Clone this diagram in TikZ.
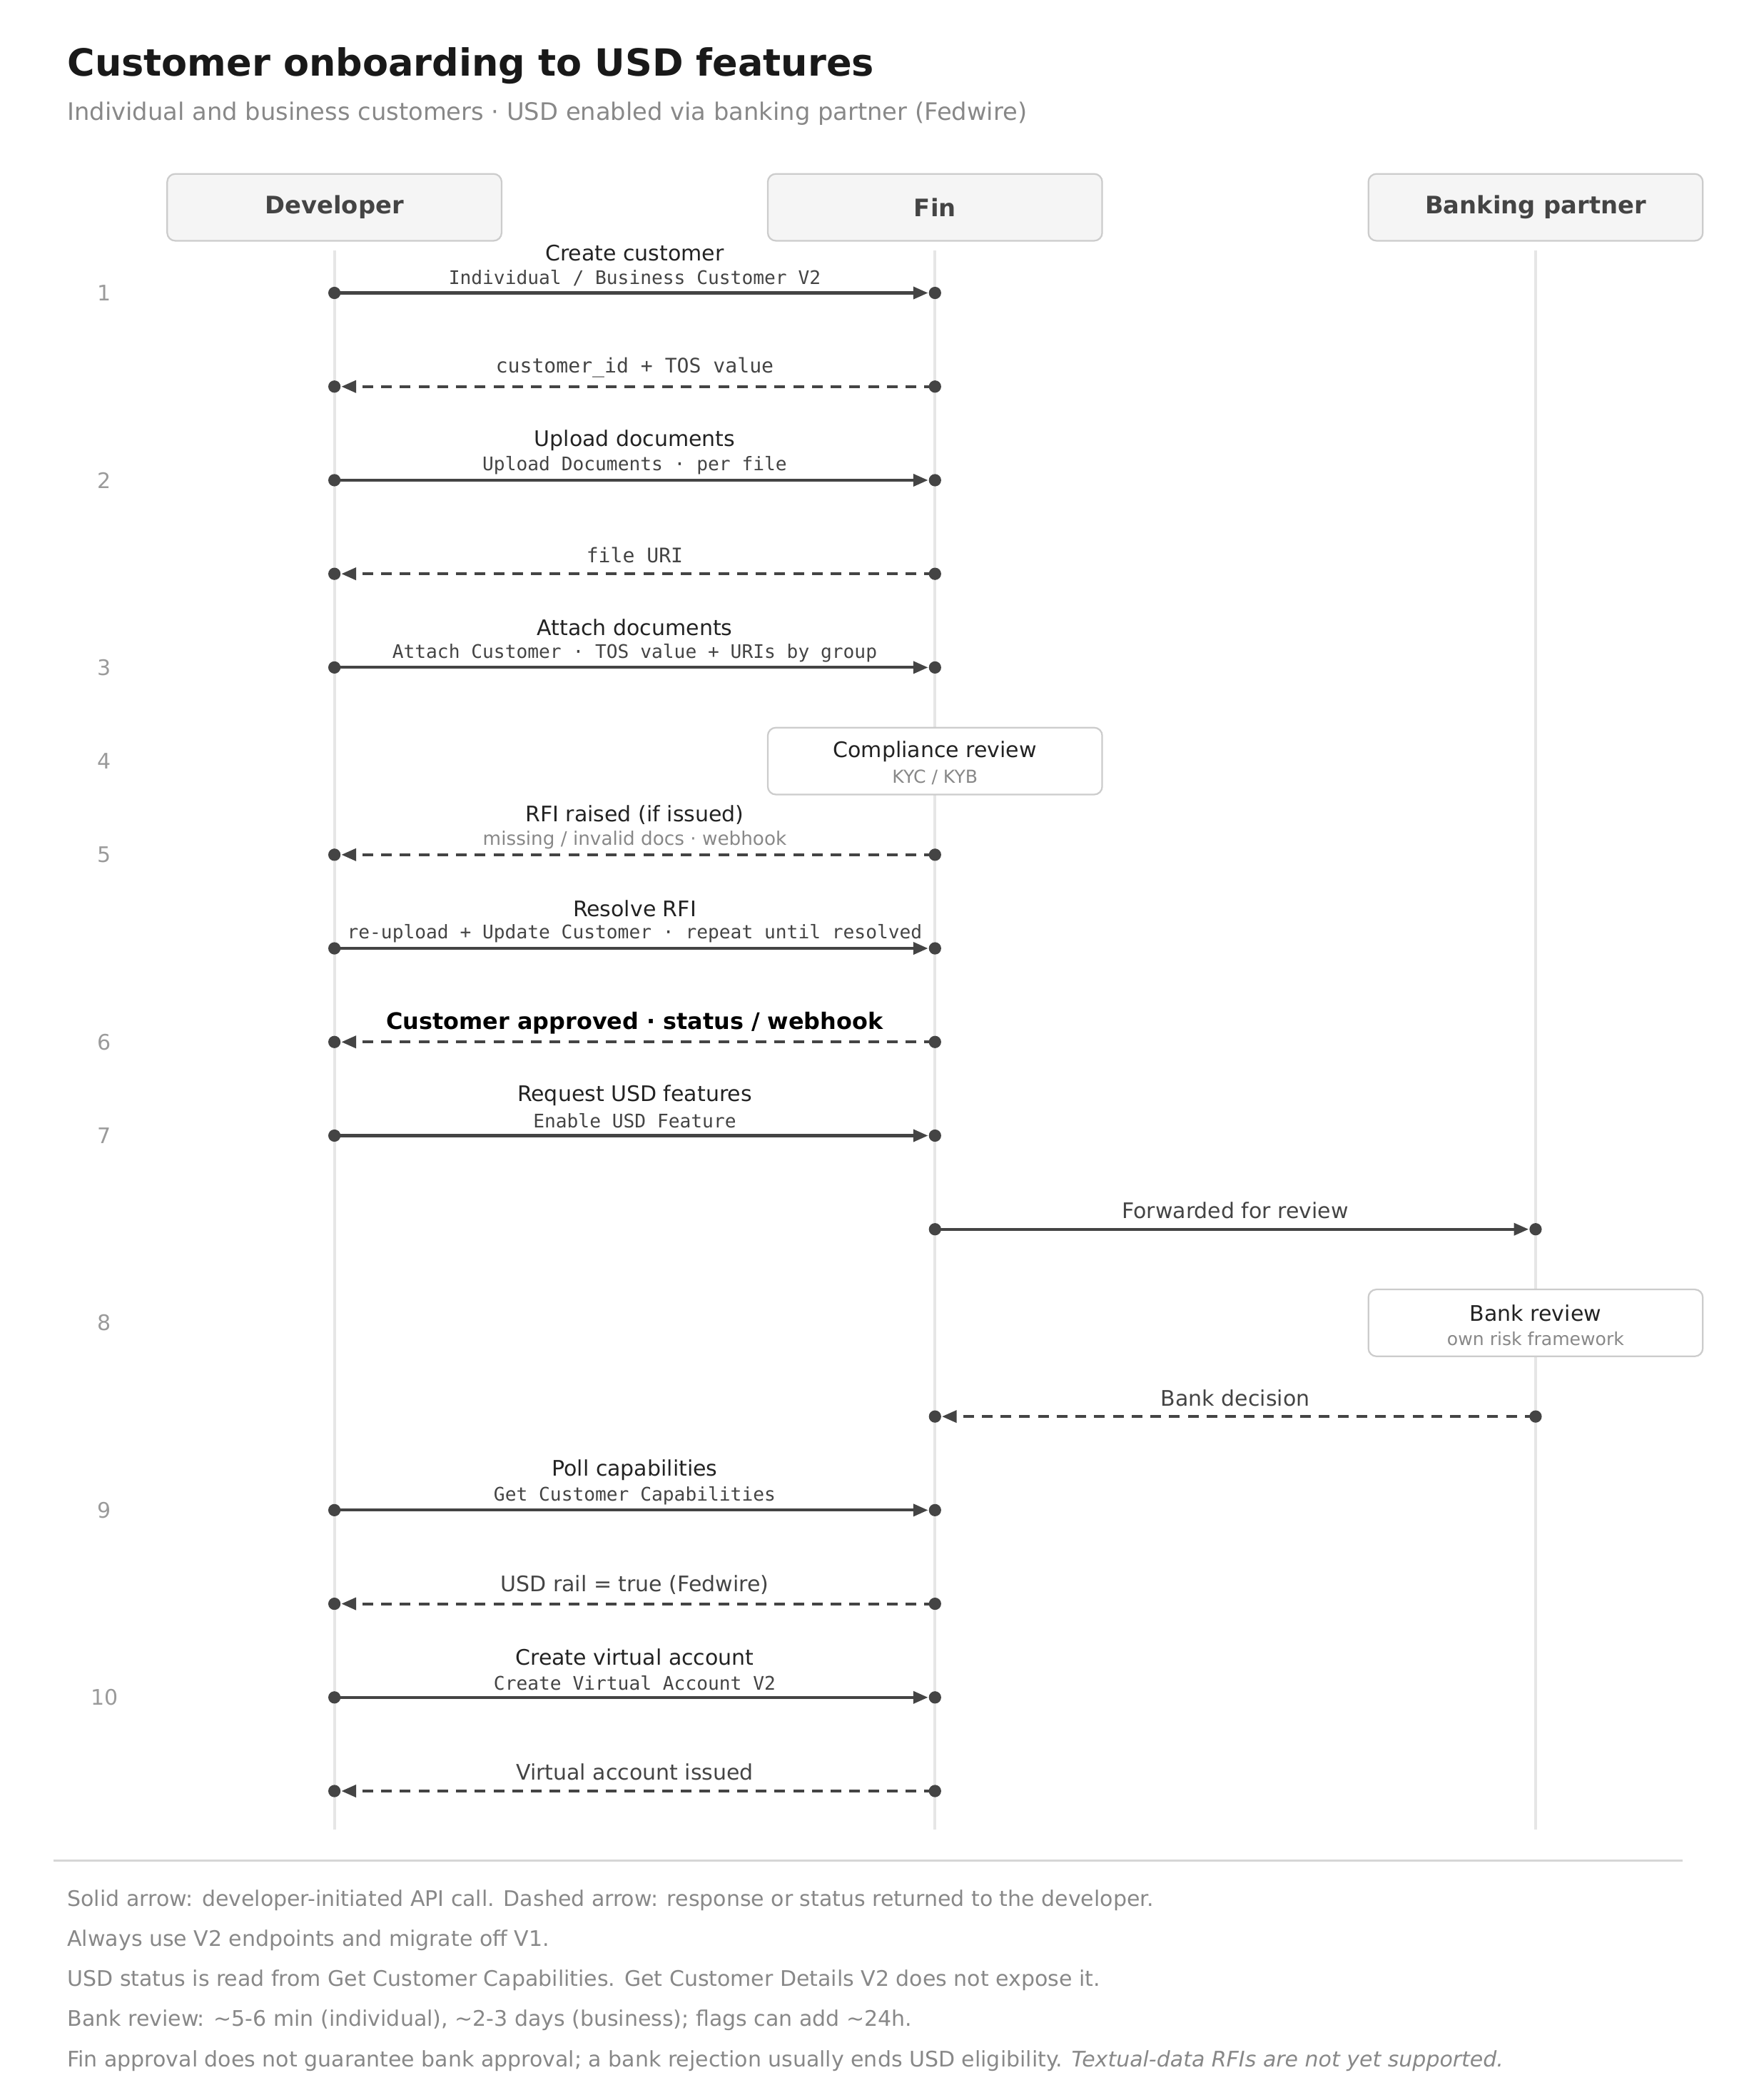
\documentclass[tikz,border=0pt]{standalone}
\usepackage{fontspec}
\setmainfont{DejaVu Sans}
\setmonofont{DejaVu Sans Mono}
\usetikzlibrary{arrows.meta}
\definecolor{ink}{HTML}{444444}
\definecolor{txt}{HTML}{222222}
\definecolor{muted}{HTML}{888888}
\definecolor{stepc}{HTML}{9A9A9A}
\definecolor{lifel}{HTML}{E6E6E6}
\definecolor{boxl}{HTML}{CCCCCC}
\definecolor{boxf}{HTML}{F5F5F5}
\newcommand\msgrow[7]{%
  \coordinate (#1a) at (#2,#4); \coordinate (#1b) at (#3,#4);
  \draw[#5] (#1a) -- (#1b);
  \fill[ink] (#1a) circle[radius=2.3pt] (#1b) circle[radius=2.3pt];
  \node[lbl] (#1m) at ({(#2+#3)/2},{#4-30}) {#6};
  \node[lbl] (#1s) at ({(#2+#3)/2},{#4-11}) {#7};
}
\newcommand\retrow[6]{%
  \coordinate (#1a) at (#2,#4); \coordinate (#1b) at (#3,#4);
  \draw[#5] (#1a) -- (#1b);
  \fill[ink] (#1a) circle[radius=2.3pt] (#1b) circle[radius=2.3pt];
  \node[lbl] (#1m) at ({(#2+#3)/2},{#4-14}) {#6};
}
\begin{document}
\begin{tikzpicture}[x=0.5pt,y=-0.5pt,
  call/.style={ink,line width=1.1pt,-{Triangle[length=5.5pt,width=4.5pt]},shorten >=2.6pt},
  ret/.style={call,dash pattern=on 4pt off 3pt},
  lbl/.style={inner sep=0pt,anchor=center},
  hdr/.style={draw=boxl,fill=boxf,rounded corners=3pt,line width=0.6pt,minimum width=125pt,minimum height=25pt,font=\fontsize{9}{11}\selectfont\bfseries,text=ink},
  abox/.style={draw=boxl,fill=white,rounded corners=3pt,line width=0.6pt,minimum width=125pt,minimum height=25pt},
  stepnum/.style={font=\fontsize{8}{9.6}\selectfont,text=stepc},
  foot/.style={font=\fontsize{8}{9.6}\selectfont,text=muted,anchor=base west,inner sep=0pt}]
\useasboundingbox (0,0) rectangle (1300,1570);
\def\sm{\fontsize{8}{9.6}\selectfont\color{txt}}
\def\sb{\ttfamily\fontsize{7}{8.4}\selectfont\color{ink}}
\def\sg{\fontsize{6.7}{8}\selectfont\color{muted}}
\node[anchor=base west,inner sep=0,font=\fontsize{14}{16}\selectfont\bfseries,text=black!90] (title) at (50,57) {Customer onboarding to USD features};
\node[anchor=base west,inner sep=0,font=\fontsize{9}{11}\selectfont,text=muted] (sub) at (50,90) {Individual and business customers · USD enabled via banking partner (Fedwire)};
% lifelines
\foreach \n/\x/\t in {dev/250/Developer,fin/699/Fin,bank/1148/Banking partner}{
  \node[hdr] (\n) at (\x,155) {\t};
  \coordinate (\n end) at (\x,1368);
  \draw[lifel,line width=1pt] (\x,187) -- (\n end);
}
% steps
\foreach \s/\y in {1/219,2/359,3/499,4/569,5/639,6/779,7/849,8/989,9/1129,10/1269}{
  \node[stepnum] (st\s) at (78,\y) {\s};
}
\msgrow{m1}{250}{699}{219}{call}{\sm Create customer}{\sb Individual / Business Customer V2}
\retrow{m2}{699}{250}{289}{ret}{\sb\fontsize{7.5}{9}\selectfont customer\_id + TOS value}
\msgrow{m3}{250}{699}{359}{call}{\sm Upload documents}{\sb Upload Documents · per file}
\retrow{m4}{699}{250}{429}{ret}{\sb\fontsize{7.5}{9}\selectfont file URI}
\msgrow{m5}{250}{699}{499}{call}{\sm Attach documents}{\sb Attach Customer · TOS value + URIs by group}
\node[abox] (comp) at (699,569) {};
\node[lbl] (compm) at (699,562) {\sm Compliance review};
\node[lbl] (comps) at (699,581) {\sg KYC / KYB};
\msgrow{m6}{699}{250}{639}{ret}{\sm RFI raised (if issued)}{\sg\fontsize{7}{8.4}\selectfont missing / invalid docs · webhook}
\msgrow{m7}{250}{699}{709}{call}{\sm Resolve RFI}{\sb re-upload + Update Customer · repeat until resolved}
\retrow{m8}{699}{250}{779}{ret}{\fontsize{8.5}{10}\selectfont\bfseries\color{black} Customer approved · status / webhook}
\msgrow{m9}{250}{699}{849}{call}{\sm Request USD features}{\sb Enable USD Feature}
\retrow{m10}{699}{1148}{919}{call}{\sm\color{ink} Forwarded for review}
\node[abox] (bank rev) at (1148,989) {};
\node[lbl] (bankm) at (1148,982) {\sm Bank review};
\node[lbl] (banks) at (1148,1001) {\sg own risk framework};
\retrow{m11}{1148}{699}{1059}{ret}{\sm\color{ink} Bank decision}
\msgrow{m12}{250}{699}{1129}{call}{\sm Poll capabilities}{\sb Get Customer Capabilities}
\retrow{m13}{699}{250}{1199}{ret}{\sm\color{ink} USD rail = true (Fedwire)}
\msgrow{m14}{250}{699}{1269}{call}{\sm Create virtual account}{\sb Create Virtual Account V2}
\retrow{m15}{699}{250}{1339}{ret}{\sm\color{ink} Virtual account issued}
% footer
\coordinate (fl) at (40,1391); \coordinate (fr) at (1258,1391);
\draw[boxl!80,line width=0.6pt] (fl) -- (fr);
\node[foot] (f1) at (50,1425) {Solid arrow: developer-initiated API call. Dashed arrow: response or status returned to the developer.};
\node[foot] (f2) at (50,1455) {Always use V2 endpoints and migrate off V1.};
\node[foot] (f3) at (50,1485) {USD status is read from Get Customer Capabilities. Get Customer Details V2 does not expose it.};
\node[foot] (f4) at (50,1515) {Bank review: \textasciitilde5-6 min (individual), \textasciitilde2-3 days (business); flags can add \textasciitilde24h.};
\node[foot] (f5) at (50,1545) {Fin approval does not guarantee bank approval; a bank rejection usually ends USD eligibility. \textit{Textual-data RFIs are not yet supported.}};
\end{tikzpicture}
\end{document}
